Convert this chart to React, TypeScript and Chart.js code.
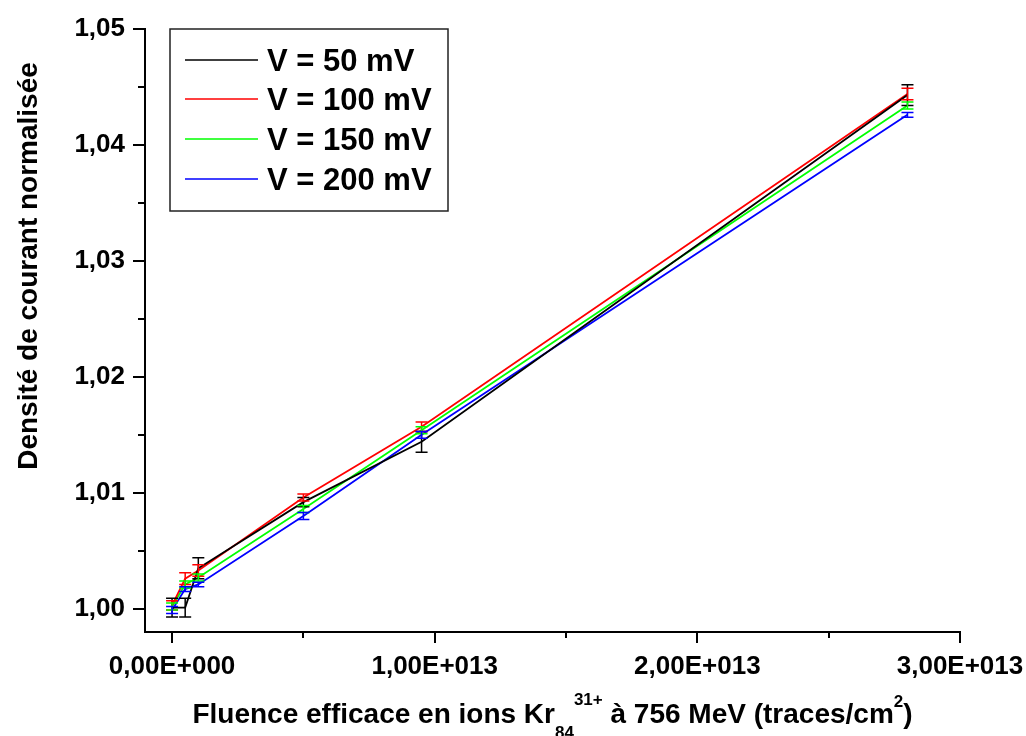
import React, { useEffect, useRef } from 'react';
import { Chart, registerables } from 'chart.js';

Chart.register(...registerables);

// ---- data ----
const xFluence = [0, 5e11, 1e12, 5e12, 9.5e12, 2.8e13];
const seriesLabels = ['V = 50 mV', 'V = 100 mV', 'V = 150 mV', 'V = 200 mV'];
const seriesColors = ['#000000', '#ff0000', '#00ff00', '#0000ff'];
const v50 = [1.0001, 1.0001, 1.0035, 1.0092, 1.0144, 1.0443];
const v100 = [1.0003, 1.0026, 1.0033, 1.0096, 1.0157, 1.0444];
const v150 = [1.0002, 1.0021, 1.0027, 1.0086, 1.0154, 1.0434];
const v200 = [0.9999, 1.0017, 1.0021, 1.008, 1.015, 1.0426];
const err50 = [0.0008, 0.0008, 0.0009, 0.0004, 0.0009, 0.0009];
const err100 = [0.0004, 0.0005, 0.0005, 0.0003, 0.0004, 0.0005];
const err150 = [0.0003, 0.0003, 0.0003, 0.0003, 0.0003, 0.0003];
const err200 = [0.0003, 0.0002, 0.0002, 0.0003, 0.0003, 0.0002];

const xTickValues = [0, 1e13, 2e13, 3e13];
const xTickLabels = ['0,00E+000', '1,00E+013', '2,00E+013', '3,00E+013'];
const xMinorTicks = [0.5e13, 1.5e13, 2.5e13];
const yTickValues = [1.0, 1.01, 1.02, 1.03, 1.04, 1.05];
const yTickLabels = ['1,00', '1,01', '1,02', '1,03', '1,04', '1,05'];
const yMinorTicks = [1.005, 1.015, 1.025, 1.035, 1.045];

const yTitle = 'Densité de courant normalisée';
const xTitleMain1 = 'Fluence efficace en ions Kr';
const xTitleSub = '84';
const xTitleSup = '31+';
const xTitleMain2 = ' à 756 MeV (traces/cm';
const xTitleSup2 = '2';
const xTitleEnd = ')';

const seriesValues = [v50, v100, v150, v200];
const seriesErrors = [err50, err100, err150, err200];

const FAMILY = '"Liberation Sans", Arial, Helvetica, sans-serif';
const bold = (s: number) => `bold ${s}px ${FAMILY}`;

const decorPlugin = {
  id: 'decor',
  afterDatasetsDraw(chart: any) {
    const ctx = chart.ctx;
    const xs = chart.scales.x;
    const ys = chart.scales.y;
    ctx.save();
    seriesValues.forEach((vals, i) => {
      ctx.strokeStyle = seriesColors[i];
      ctx.lineWidth = 1.5;
      vals.forEach((v, j) => {
        const e = seriesErrors[i][j];
        const px = xs.getPixelForValue(xFluence[j]);
        const yt = ys.getPixelForValue(v + e);
        const yb = ys.getPixelForValue(v - e);
        ctx.beginPath();
        ctx.moveTo(px, yt);
        ctx.lineTo(px, yb);
        ctx.moveTo(px - 6, yt);
        ctx.lineTo(px + 6, yt);
        ctx.moveTo(px - 6, yb);
        ctx.lineTo(px + 6, yb);
        ctx.stroke();
      });
    });
    ctx.restore();
  },
  afterDraw(chart: any) {
    const ctx = chart.ctx;
    const xs = chart.scales.x;
    const ys = chart.scales.y;
    const area = chart.chartArea;
    ctx.save();
    // minor ticks
    ctx.strokeStyle = '#000';
    ctx.lineWidth = 2;
    ctx.beginPath();
    xMinorTicks.forEach((v) => {
      const px = Math.round(xs.getPixelForValue(v));
      ctx.moveTo(px, area.bottom);
      ctx.lineTo(px, area.bottom + 6);
    });
    yMinorTicks.forEach((v) => {
      const py = Math.round(ys.getPixelForValue(v));
      ctx.moveTo(area.left - 7, py);
      ctx.lineTo(area.left, py);
    });
    ctx.stroke();

    // legend
    const lx = 170, ly = 29, lw = 278, lh = 182;
    ctx.lineWidth = 1.5;
    ctx.strokeStyle = '#222';
    ctx.strokeRect(lx, ly, lw, lh);
    const rows = [60, 99, 139, 179];
    ctx.font = bold(31);
    ctx.textAlign = 'left';
    ctx.textBaseline = 'alphabetic';
    seriesLabels.forEach((lab, i) => {
      ctx.strokeStyle = seriesColors[i];
      ctx.lineWidth = 1.6;
      ctx.beginPath();
      ctx.moveTo(185, rows[i]);
      ctx.lineTo(258, rows[i]);
      ctx.stroke();
      ctx.fillStyle = '#000';
      ctx.fillText(lab, 267, rows[i] + 11);
    });

    // y title
    ctx.save();
    ctx.translate(37, 266);
    ctx.rotate(-Math.PI / 2);
    ctx.font = bold(28);
    ctx.textAlign = 'center';
    ctx.fillStyle = '#000';
    ctx.fillText(yTitle, 0, 0);
    ctx.restore();

    // x title with sub/superscripts
    const parts = [
      { t: xTitleMain1, s: 28, dy: 0 },
      { t: xTitleSub, s: 17, dy: 15 },
      { t: xTitleSup, s: 17, dy: -18 },
      { t: xTitleMain2, s: 28, dy: 0 },
      { t: xTitleSup2, s: 17, dy: -16 },
      { t: xTitleEnd, s: 28, dy: 0 },
    ];
    let total = 0;
    const widths = parts.map((p) => {
      ctx.font = bold(p.s);
      const w = ctx.measureText(p.t).width;
      total += w;
      return w;
    });
    let cx = (area.left + area.right) / 2 - total / 2;
    const base = 723;
    ctx.textAlign = 'left';
    ctx.fillStyle = '#000';
    parts.forEach((p, i) => {
      ctx.font = bold(p.s);
      ctx.fillText(p.t, cx, base + p.dy);
      cx += widths[i];
    });
    ctx.restore();
  },
};

export default function App() {
  const ref = useRef<HTMLCanvasElement | null>(null);
  useEffect(() => {
    if (!ref.current) return;
    const chart = new Chart(ref.current, {
      type: 'line',
      data: {
        datasets: seriesValues.map((vals, i) => ({
          label: seriesLabels[i],
          data: vals.map((v, j) => ({ x: xFluence[j], y: v })),
          borderColor: seriesColors[i],
          backgroundColor: seriesColors[i],
          borderWidth: 1.8,
          pointRadius: 0,
          tension: 0,
          fill: false,
        })),
      },
      options: {
        responsive: false,
        animation: false,
        layout: { padding: { left: 0, top: 29, right: 66, bottom: 0 } },
        plugins: { legend: { display: false }, tooltip: { enabled: false } },
        scales: {
          x: {
            type: 'linear',
            min: -1.03e12,
            max: 3e13,
            afterBuildTicks: (s: any) => {
              s.ticks = xTickValues.map((v) => ({ value: v }));
            },
            afterFit: (s: any) => {
              s.height = 104;
              s.paddingLeft = 0;
              s.paddingRight = 0;
            },
            ticks: {
              autoSkip: false,
              maxRotation: 0,
              padding: 8,
              color: '#000',
              font: { family: FAMILY, size: 26, weight: 'bold' },
              callback: (_v: any, idx: number) => xTickLabels[idx],
            },
            grid: {
              drawOnChartArea: false,
              drawTicks: true,
              tickLength: 11,
              lineWidth: 2,
              color: '#000',
            },
            border: { display: true, color: '#000', width: 2 },
          },
          y: {
            type: 'linear',
            min: 0.998,
            max: 1.05,
            afterBuildTicks: (s: any) => {
              s.ticks = yTickValues.map((v) => ({ value: v }));
            },
            afterFit: (s: any) => {
              s.width = 145;
              s.paddingTop = 0;
              s.paddingBottom = 0;
            },
            ticks: {
              autoSkip: false,
              padding: 8,
              color: '#000',
              font: { family: FAMILY, size: 26, weight: 'bold' },
              callback: (_v: any, idx: number) => yTickLabels[idx],
            },
            grid: {
              drawOnChartArea: false,
              drawTicks: true,
              tickLength: 12,
              lineWidth: 2,
              color: '#000',
            },
            border: { display: true, color: '#000', width: 2 },
          },
        },
      },
      plugins: [decorPlugin],
    } as any);
    return () => chart.destroy();
  }, []);
  return (
    <div style={{ position: 'absolute', left: 0, top: 0, width: 1026, height: 736, background: '#fff' }}>
      <canvas ref={ref} width={1026} height={736} />
    </div>
  );
}
